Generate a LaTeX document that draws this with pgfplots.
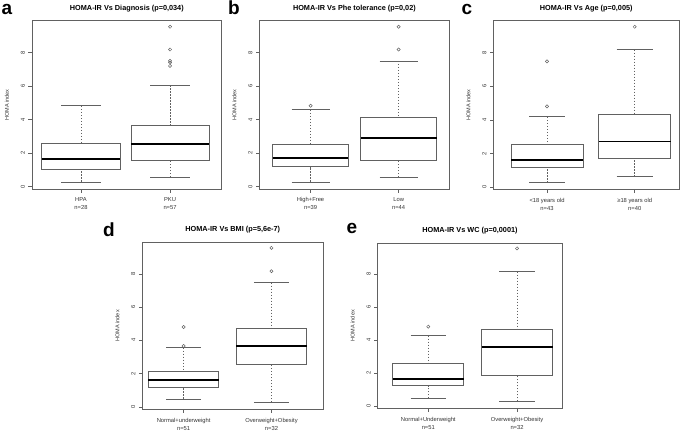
\documentclass[border=0pt]{standalone}
\usepackage{fontspec}
\setmainfont{Liberation Sans}
\usepackage{pgfplots}
\pgfplotsset{compat=1.18}
\usepgfplotslibrary{statistics}
\definecolor{ln}{gray}{0.38}
\pgfplotsset{
 rbox/.style={
  scale only axis, anchor=south west,
  ymin=-0.15, ymax=9.9,
  xtick={1,2}, ytick={0,2,4,6,8},
  xtick pos=lower, ytick pos=left, tick align=outside,
  major tick length=3.5pt,
  axis line style={ln, line width=0.6pt},
  tick style={ln, line width=0.5pt},
  /pgf/number format/assume math mode=true,
  tick label style={font=\fontsize{5.8}{8.2}\selectfont, text=black!80},
  xticklabel style={align=center, yshift=-1.5pt},
  yticklabel style={rotate=90, anchor=south},
  ylabel={HOMA index},
  every axis y label/.style={at={(axis description cs:0,0.5)}, anchor=center, rotate=90, yshift=25pt, font=\fontsize{5.5}{6.5}\selectfont, text=black!80},
  every axis title shift=0pt,
  title style={font=\bfseries\fontsize{7.3}{9}\selectfont, at={(axis description cs:0.5,1)}, anchor=center, yshift=12.5pt},
  boxplot/draw direction=y,
  boxplot/every median/.style={line width=1.5pt, draw=black, solid},
  boxplot/draw/lower whisker/.code={
    \draw[/pgfplots/boxplot/every whisker/.try, dash pattern=on 1.6pt off 1.4pt]
      (boxplot box cs:\pgfplotsboxplotvalue{lower whisker},0.5) --
      (boxplot box cs:\pgfplotsboxplotvalue{lower quartile},0.5);
    \draw[/pgfplots/boxplot/every whisker/.try, solid]
      (boxplot whisker cs:\pgfplotsboxplotvalue{lower whisker},0) --
      (boxplot whisker cs:\pgfplotsboxplotvalue{lower whisker},1);
  },
  boxplot/draw/upper whisker/.code={
    \draw[/pgfplots/boxplot/every whisker/.try, dash pattern=on 1.6pt off 1.4pt]
      (boxplot box cs:\pgfplotsboxplotvalue{upper whisker},0.5) --
      (boxplot box cs:\pgfplotsboxplotvalue{upper quartile},0.5);
    \draw[/pgfplots/boxplot/every whisker/.try, solid]
      (boxplot whisker cs:\pgfplotsboxplotvalue{upper whisker},0) --
      (boxplot whisker cs:\pgfplotsboxplotvalue{upper whisker},1);
  },
 },
 bx/.style={draw=ln, line width=0.6pt, mark=o, mark size=1.6pt, mark options={solid, draw=ln, line width=0.5pt}},
}
\begin{document}
\begin{tikzpicture}[x=1pt,y=1pt]
\useasboundingbox (0pt,0pt) rectangle (685pt,432pt);

% panel a
\begin{axis}[rbox, at={(32pt,243pt)}, width=189.7pt, height=168.3pt,
  xmin=0.45, xmax=2.58, boxplot/box extend=0.88, boxplot/whisker extend=0.44,
  title={HOMA-IR Vs Diagnosis (p=0,034)},
  xticklabels={{HPA\\n=28},{PKU\\n=57}}]
\addplot[bx, boxplot prepared={lower whisker=0.28, lower quartile=1.04, median=1.64, upper quartile=2.6, upper whisker=4.82, draw position=1}] coordinates {};
\addplot[bx, boxplot prepared={lower whisker=0.56, lower quartile=1.56, median=2.54, upper quartile=3.64, upper whisker=6.04, draw position=2}] table[row sep=\\, y index=0] {v\\7.2\\7.4\\7.5\\8.18\\9.54\\};
\end{axis}

% panel b
\begin{axis}[rbox, at={(259.5pt,243pt)}, width=189.8pt, height=168.3pt,
  xmin=0.42, xmax=2.575, boxplot/box extend=0.86, boxplot/whisker extend=0.43,
  title={HOMA-IR Vs Phe tolerance (p=0,02)},
  xticklabels={{High+Free\\n=39},{Low\\n=44}}]
\addplot[bx, boxplot prepared={lower whisker=0.28, lower quartile=1.18, median=1.7, upper quartile=2.54, upper whisker=4.58, draw position=1}] table[row sep=\\, y index=0] {v\\4.82\\};
\addplot[bx, boxplot prepared={lower whisker=0.56, lower quartile=1.58, median=2.9, upper quartile=4.16, upper whisker=7.5, draw position=2}] table[row sep=\\, y index=0] {v\\8.18\\9.54\\};
\end{axis}

% panel c
\begin{axis}[rbox, at={(493.5pt,242.5pt)}, width=185.5pt, height=168.8pt,
  xmin=0.39, xmax=2.505, boxplot/box extend=0.82, boxplot/whisker extend=0.41,
  title={HOMA-IR Vs Age (p=0,005)},
  xticklabels={{<18 years old\\n=43},{≥18 years old\\n=40}}]
\addplot[bx, boxplot prepared={lower whisker=0.26, lower quartile=1.18, median=1.62, upper quartile=2.54, upper whisker=4.18, draw position=1}] table[row sep=\\, y index=0] {v\\4.8\\7.48\\};
\addplot[bx, boxplot prepared={lower whisker=0.62, lower quartile=1.72, median=2.72, upper quartile=4.34, upper whisker=8.18, draw position=2}] table[row sep=\\, y index=0] {v\\9.54\\};
\end{axis}

% panel d
\begin{axis}[rbox, at={(142.3pt,22.7pt)}, width=181pt, height=167pt,
  xmin=0.53, xmax=2.59, boxplot/box extend=0.8, boxplot/whisker extend=0.4,
  title={HOMA-IR Vs BMI (p=5,6e-7)},
  xticklabels={{Normal+underweight\\n=51},{Overweight+Obesity\\n=32}}]
\addplot[bx, boxplot prepared={lower whisker=0.48, lower quartile=1.18, median=1.62, upper quartile=2.14, upper whisker=3.56, draw position=1}] table[row sep=\\, y index=0] {v\\3.66\\4.8\\};
\addplot[bx, boxplot prepared={lower whisker=0.28, lower quartile=2.54, median=3.66, upper quartile=4.72, upper whisker=7.48, draw position=2}] table[row sep=\\, y index=0] {v\\8.16\\9.56\\};
\end{axis}

% panel e
\begin{axis}[rbox, at={(377.7pt,23.5pt)}, width=184.6pt, height=165.5pt,
  xmin=0.43, xmax=2.51, boxplot/box extend=0.8, boxplot/whisker extend=0.4,
  title={HOMA-IR Vs WC (p=0,0001)},
  xticklabels={{Normal+Underweight\\n=51},{Overweight+Obesity\\n=32}}]
\addplot[bx, boxplot prepared={lower whisker=0.46, lower quartile=1.24, median=1.64, upper quartile=2.6, upper whisker=4.28, draw position=1}] table[row sep=\\, y index=0] {v\\4.82\\};
\addplot[bx, boxplot prepared={lower whisker=0.28, lower quartile=1.85, median=3.6, upper quartile=4.68, upper whisker=8.16, draw position=2}] table[row sep=\\, y index=0] {v\\9.57\\};
\end{axis}

\begin{scope}[every node/.style={font=\bfseries\fontsize{19}{19}\selectfont, anchor=base west, inner sep=0pt}]
\node at (1.5pt,417pt) {a};
\node at (228pt,417pt) {b};
\node at (461.5pt,417pt) {c};
\node at (103pt,196pt) {d};
\node at (346.5pt,199pt) {e};
\end{scope}
\end{tikzpicture}
\end{document}
